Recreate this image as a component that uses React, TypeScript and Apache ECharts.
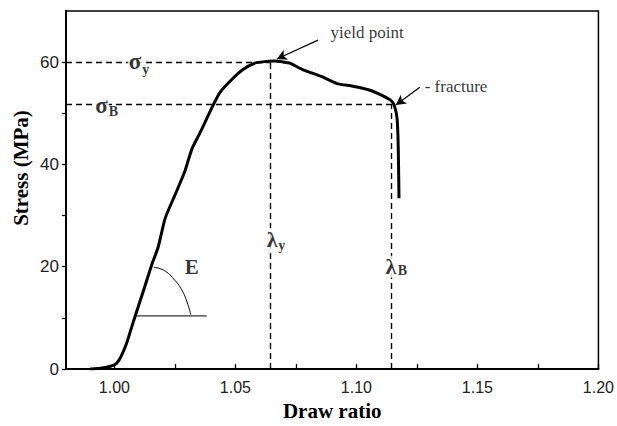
import React, { useEffect, useRef } from "react";
import * as echarts from "echarts";

// Stress–strain curve (draw ratio vs stress, MPa)
const drawRatio = [
  0.99, 0.995, 1.0, 1.002, 1.005, 1.008, 1.012, 1.0155, 1.018, 1.021, 1.025, 1.029, 1.032, 1.0355,
  1.04, 1.0435, 1.0485, 1.053, 1.058, 1.062, 1.066, 1.07, 1.0725, 1.078, 1.0855, 1.092, 1.0985,
  1.105, 1.111, 1.1145, 1.1158, 1.1168, 1.1172, 1.1174, 1.1176,
];
const stress = [
  0, 0.2, 0.8, 1.8, 5.0, 9.5, 15.3, 20.5, 23.7, 29.5, 34.0, 38.5, 43.0, 46.3,
  50.8, 54.0, 56.6, 58.5, 59.8, 60.1, 60.2, 60.0, 59.8, 58.5, 57.2, 55.8, 55.3,
  54.6, 53.4, 52.4, 51.3, 49.0, 45.0, 40.0, 33.4,
];

// Axis ticks
const xTickValues = [1.0, 1.025, 1.05, 1.075, 1.1, 1.125, 1.15, 1.175, 1.2];
const xLabelValues = [1.0, 1.05, 1.1, 1.15, 1.2];
const yTickValues = [0, 10, 20, 30, 40, 50, 60];
const yLabelValues = [0, 20, 40, 60];

// Characteristic points
const yieldRatio = 1.0645;
const yieldStress = 60;
const breakRatio = 1.1145;
const breakStress = 51.8;

// Modulus (E) construction
const arcX = [1.0162, 1.0204, 1.0245, 1.0279, 1.03, 1.0316];
const arcY = [19.9, 19.3, 17.6, 15.4, 13.1, 10.6];
const baseX = [1.0089, 1.0381];
const baseY = [10.4, 10.4];

// Arrows: [fromX, fromY, toX, toY]
const yieldArrow = [1.0841, 64.3, 1.0671, 60.6];
const fractureArrow = [1.1262, 55.1, 1.1163, 51.6];

const SERIF = "'Liberation Serif', 'Times New Roman', serif";
const SANS = "'Liberation Sans', Arial, sans-serif";

export default function App() {
  const ref = useRef<HTMLDivElement>(null);
  useEffect(() => {
    if (!ref.current) return;
    document.body.style.margin = "0";
    const chart = echarts.init(ref.current, null, { renderer: "svg" });

    const curve = drawRatio.map((x, i) => [x, stress[i]]);
    const arc = arcX.map((x, i) => [x, arcY[i]]);
    const base = baseX.map((x, i) => [x, baseY[i]]);

    const greek = (x: number, y: number, text: string, size: number, bg = true) => ({
      value: [x, y],
      label: {
        show: true,
        position: "inside",
        formatter: text,
        fontFamily: SERIF,
        fontWeight: "bold",
        fontSize: size,
        color: "#000",
        backgroundColor: bg ? "#fff" : "transparent",
        padding: bg ? [0, 1] : 0,
      },
    });
    const note = (x: number, y: number, text: string) => ({
      value: [x, y],
      label: {
        show: true,
        position: "inside",
        align: "left",
        verticalAlign: "middle",
        formatter: text,
        fontFamily: SERIF,
        fontSize: 17,
        color: "#000",
      },
    });

    const dashStyle = { color: "#000", width: 1.4, type: [6, 4] as number[] };

    chart.setOption({
      animation: false,
      backgroundColor: "#fff",
      grid: {
        left: 66,
        right: 12,
        top: 11,
        bottom: 53,
        show: true,
        borderColor: "#000",
        borderWidth: 1.5,
      },
      xAxis: {
        type: "value",
        min: 0.98,
        max: 1.2,
        name: "Draw ratio",
        nameLocation: "middle",
        nameGap: 31,
        nameTextStyle: { fontFamily: SERIF, fontWeight: "bold", fontSize: 21, color: "#000" },
        axisLine: { show: true, onZero: false, lineStyle: { color: "#000", width: 2 } },
        axisTick: {
          show: true,
          inside: true,
          length: 5,
          customValues: xTickValues,
          lineStyle: { color: "#000", width: 1.3 },
        },
        axisLabel: {
          customValues: xLabelValues,
          formatter: (v: number) => v.toFixed(2),
          fontFamily: SANS,
          fontSize: 16,
          color: "#222",
          margin: 10,
        },
        splitLine: { show: false },
      },
      yAxis: {
        type: "value",
        min: 0,
        max: 70,
        axisLine: { show: true, onZero: false, lineStyle: { color: "#000", width: 2 } },
        axisTick: {
          show: true,
          inside: false,
          length: 4,
          customValues: yTickValues,
          lineStyle: { color: "#000", width: 1.3 },
        },
        axisLabel: {
          customValues: yLabelValues,
          fontFamily: SANS,
          fontSize: 17,
          color: "#222",
          margin: 7,
        },
        splitLine: { show: false },
      },
      graphic: [
        {
          type: "text",
          x: 21,
          y: 168,
          rotation: Math.PI / 2,
          style: {
            text: "Stress (MPa)",
            font: `bold 21px ${SERIF}`,
            fill: "#000",
            textAlign: "center",
            textVerticalAlign: "middle",
          },
        },
      ],
      series: [
        {
          name: "guides",
          type: "line",
          data: [],
          z: 2,
          markLine: {
            silent: true,
            symbol: "none",
            label: { show: false },
            lineStyle: dashStyle,
            data: [
              [{ coord: [0.98, yieldStress] }, { coord: [yieldRatio, yieldStress] }],
              [{ coord: [yieldRatio, 0] }, { coord: [yieldRatio, yieldStress] }],
              [{ coord: [0.98, breakStress] }, { coord: [breakRatio, breakStress] }],
              [{ coord: [breakRatio, 0] }, { coord: [breakRatio, breakStress] }],
            ],
          },
        },
        {
          name: "arrows",
          type: "line",
          data: [],
          z: 6,
          markLine: {
            silent: true,
            symbol: ["none", "arrow"],
            symbolSize: [8, 10],
            label: { show: false },
            lineStyle: { color: "#000", width: 1.2, type: "solid" },
            data: [
              [
                { coord: [yieldArrow[0], yieldArrow[1]] },
                { coord: [yieldArrow[2], yieldArrow[3]] },
              ],
              [
                { coord: [fractureArrow[0], fractureArrow[1]] },
                { coord: [fractureArrow[2], fractureArrow[3]] },
              ],
            ],
          },
        },
        {
          name: "modulus arc",
          type: "line",
          data: arc,
          smooth: true,
          symbol: "none",
          z: 3,
          lineStyle: { color: "#000", width: 1 },
        },
        {
          name: "modulus base",
          type: "line",
          data: base,
          symbol: "none",
          z: 3,
          lineStyle: { color: "#333", width: 1.2 },
        },
        {
          name: "stress",
          type: "line",
          data: curve,
          symbol: "none",
          smooth: 0.2,
          z: 5,
          lineStyle: { color: "#000", width: 3 },
        },
        {
          name: "labels",
          type: "scatter",
          symbolSize: 0,
          z: 8,
          silent: true,
          data: [
            greek(1.0085, 60.2, "σ", 23),
            greek(1.013, 58.6, "y", 14, false),
            greek(0.9947, 51.5, "σ", 23),
            greek(0.9996, 50.4, "B", 14, false),
            greek(1.0652, 25.4, "λ", 22),
            greek(1.0691, 24.2, "y", 14, false),
            greek(1.1142, 20.0, "λ", 22),
            greek(1.119, 19.3, "B", 14, false),
            greek(1.032, 19.9, "E", 21, false),
            note(1.0893, 65.8, "yield point"),
            note(1.1282, 55.2, "- fracture"),
          ],
        },
      ],
    });
    return () => chart.dispose();
  }, []);
  return <div ref={ref} style={{ width: 617, height: 426 }} />;
}
